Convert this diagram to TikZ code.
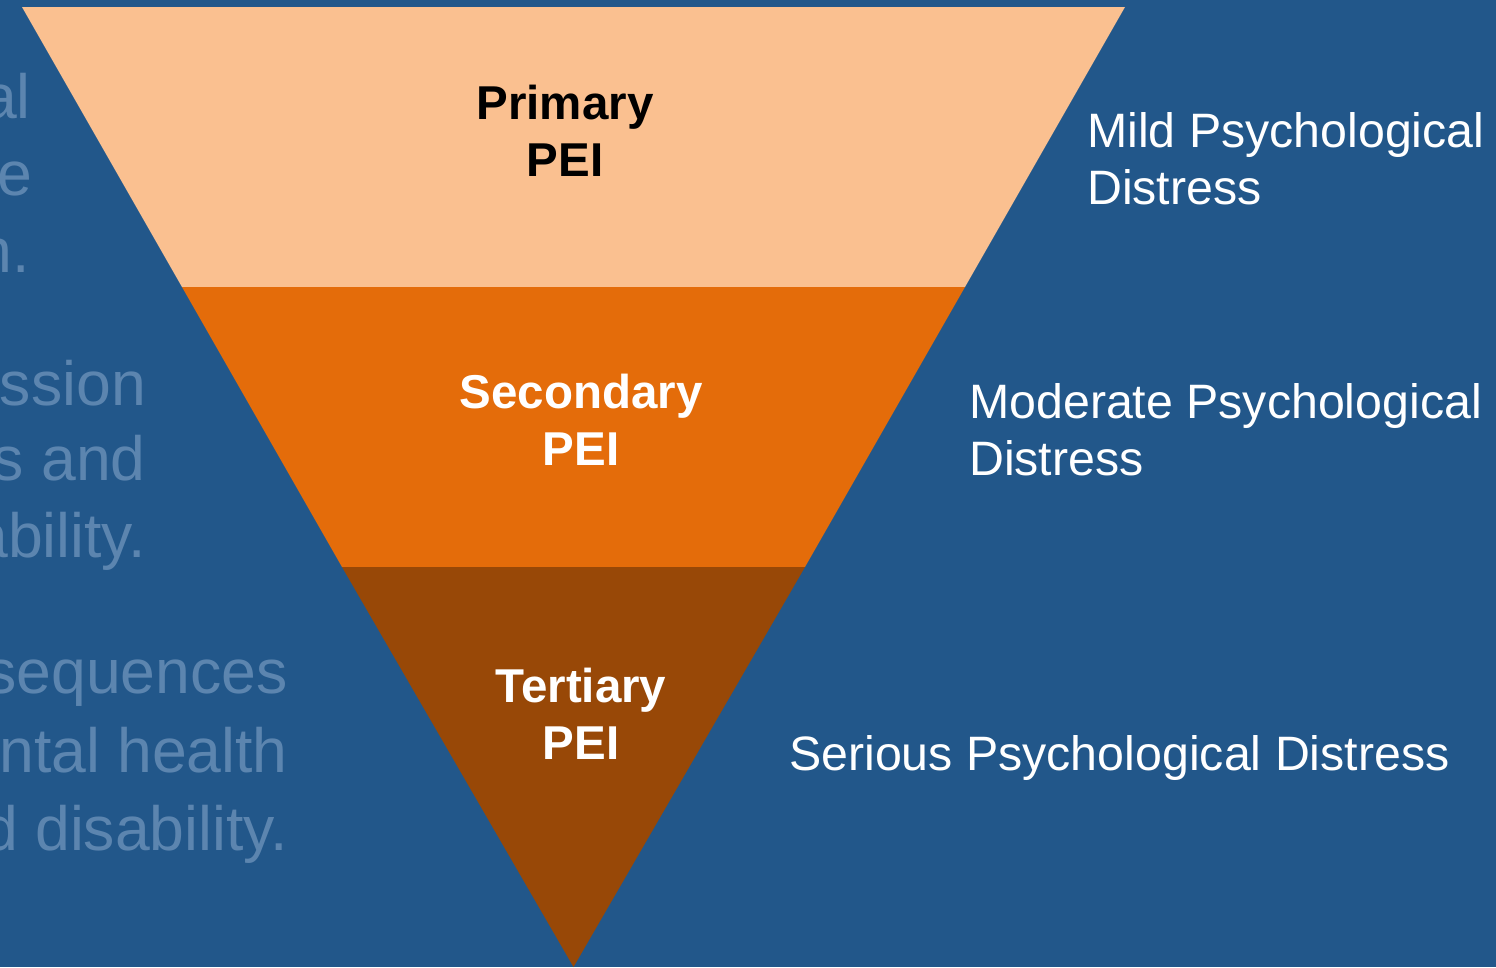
\documentclass[tikz,border=0pt]{standalone}
\usepackage{fontspec}
\setmainfont{Liberation Sans}
\usepackage{tikz}
\usepackage{xcolor}

\definecolor{slideblue}{HTML}{22578A}
\definecolor{fadedblue}{HTML}{5C85AF}
\definecolor{peach}{HTML}{FAC090}
\definecolor{pumpkin}{HTML}{E46C0A}
\definecolor{rust}{HTML}{984807}

\begin{document}
\begin{tikzpicture}[x=1pt, y=-1pt,
    level/.style={font=\fontsize{47.5}{57}\selectfont\bfseries, align=center, inner sep=0pt},
    distress/.style={font=\fontsize{48.3}{57}\selectfont, text=white, align=left, inner sep=0pt, anchor=north west},
    faded/.style={font=\fontsize{62.5}{77}\selectfont, text=fadedblue, inner sep=0pt, anchor=base east}]

\useasboundingbox (0,0) rectangle (1496,967);
\fill[slideblue] (0,0) rectangle (1496,967);
\clip (0,0) rectangle (1496,967);

% text of the slide behind the funnel
\foreach \t/\x/\y [count=\i] in {al/31/118, e/32/195, n./30/272,
    ssion/146/405, s and/146/480, ability./146/557,
    sequences/288/693, ntal health/288/772, d disability./288/850}
  \node[faded] (back\i) at (\x,\y) {\t};

% funnel
\fill[peach] (22,7) -- (1125,7) -- (965,287) -- (182,287) -- cycle;
\fill[pumpkin] (182,287) -- (965,287) -- (805,567) -- (342,567) -- cycle;
\fill[rust] (342,567) -- (805,567) -- (573.5,967) -- cycle;

\node[level] (primary) at (565,131) {Primary\\PEI};
\node[level, text=white] (secondary) at (581,420) {Secondary\\PEI};
\node[level, text=white] (tertiary) at (581,714) {Tertiary\\PEI};

\node[distress] (mild) at (1087,112) {Mild Psychological\\Distress};
\node[distress] (moderate) at (969,383) {Moderate Psychological\\Distress};
\node[distress] (serious) at (789,735) {Serious Psychological Distress};
\end{tikzpicture}
\end{document}
